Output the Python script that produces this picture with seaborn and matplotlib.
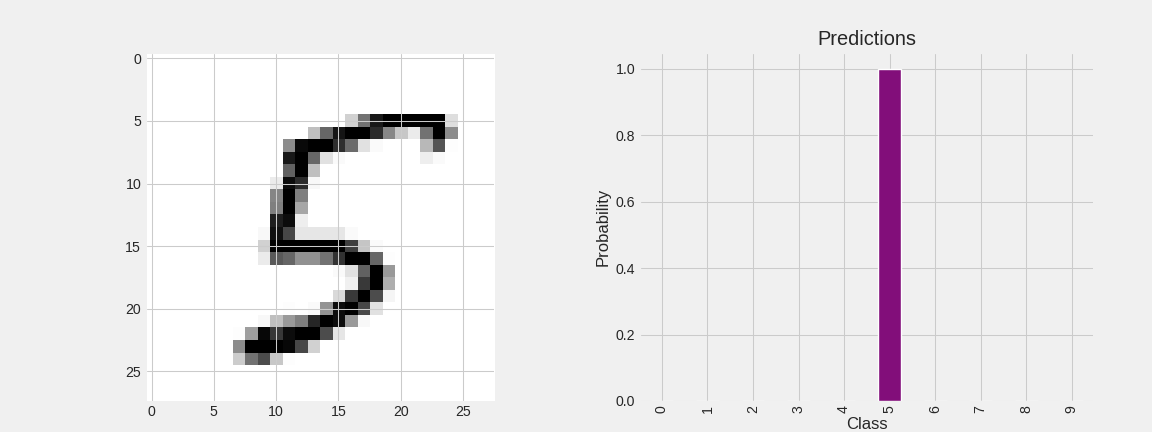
import numpy as np
import pandas as pd
import matplotlib
matplotlib.use("Agg")
import matplotlib.pyplot as plt
import seaborn as sns

# digit darkness: row -> (first column, values from that column on)
digit_rows = {
    5: (16, [.18, .55, .90, 1, 1, 1, 1, 1, .13]),
    6: (13, [.25, .60, .92, 1, 1, .83, .47, .22, .08, .55, 1, .45]),
    7: (11, [.45, .96, 1, 1, .82, .58, .12, .02, 0, 0, 0, .28, .67, .01]),
    8: (11, [.90, 1, .60, .12, .02, 0, 0, 0, 0, 0, 0, .07, .02]),
    9: (11, [.62, 1, .25]),
    10: (10, [.08, .95, .83, .03]),
    11: (10, [.48, 1, .50]),
    12: (10, [.50, 1, .35]),
    13: (10, [.88, .95, .07]),
    14: (9, [.03, .93, .72, .10, .10, .10, .10, .02]),
    15: (9, [.18, 1, 1, 1, 1, 1, 1, .75, .23, .02]),
    16: (9, [.08, .65, .60, .43, .43, .55, .80, 1, 1, .60, .01]),
    17: (15, [.02, .12, .62, 1, .40]),
    18: (16, [.06, .77, 1, .32]),
    19: (15, [.15, .77, 1, .70, .04]),
    20: (11, [.01, 0, .02, .42, .95, 1, .72, .12]),
    21: (9, [.03, .25, .40, .50, .85, 1, .95, .40, .03]),
    22: (7, [.01, .38, .97, .78, .95, 1, 1, .70, .10]),
    23: (7, [.45, 1, 1, 1, .97, .72, .18]),
    24: (7, [.20, .55, .70, .22, .01]),
}
image_size = 28
classes = [0, 1, 2, 3, 4, 5, 6, 7, 8, 9]
probabilities = [0, 0, 0, 0, 0, 1.0, 0, 0, 0, 0]
image_ticks = [0, 5, 10, 15, 20, 25]
prob_ticks = [0.0, 0.2, 0.4, 0.6, 0.8, 1.0]

BG = "#f0f0f0"
GRID = "#cbcbcb"
INK = "#262626"

sns.set_theme(style="whitegrid", rc={
    "figure.facecolor": BG, "axes.facecolor": BG, "savefig.facecolor": BG,
    "grid.color": GRID, "grid.linewidth": 0.75, "axes.edgecolor": BG,
    "text.color": INK, "axes.labelcolor": INK,
    "xtick.color": INK, "ytick.color": INK,
})
plt.rcParams["font.family"] = ["Liberation Sans", "DejaVu Sans"]

digit = np.zeros((image_size, image_size))
for row, (start, vals) in digit_rows.items():
    digit[row, start:start + len(vals)] = vals

fig = plt.figure(figsize=(11.52, 4.32), dpi=100)
W, H = 1152, 432

ax1 = fig.add_axes([146.7 / W, (H - 401) / H, 347.3 / W, 347.3 / H])
ax1.imshow(digit, cmap="gray_r", vmin=0, vmax=1, interpolation="nearest", aspect="auto", zorder=1)
ax1.set_xlim(-0.39, 27.5)
ax1.set_ylim(27.36, -0.37)
ax1.set_xticks(image_ticks)
ax1.set_yticks(image_ticks)
ax1.grid(True, zorder=5)
ax1.set_axisbelow(False)
ax1.tick_params(labelsize=10.2, length=0, pad=4)
ax1.tick_params(axis="x", pad=3)
for s in ax1.spines.values():
    s.set_visible(False)

ax2 = fig.add_axes([640.6 / W, (H - 401) / H, 452.4 / W, 347.5 / H])
df = pd.DataFrame({"Class": classes, "Probability": probabilities})
sns.barplot(data=df, x="Class", y="Probability", color="#820e7a", saturation=1,
            width=0.5, ax=ax2, zorder=3)
ax2.set_xlim(-0.468, 9.466)
ax2.set_ylim(0, 1.046)
ax2.set_yticks(prob_ticks)
ax2.grid(True, axis="both", zorder=0)
ax2.set_axisbelow(True)
ax2.tick_params(labelsize=10.2, length=0, pad=4)
ax2.tick_params(axis="x", labelrotation=90, pad=3)
ax2.set_title("Predictions", fontsize=14.4, pad=5.8, color=INK)
ax2.set_xlabel("Class", fontsize=12, labelpad=2.5)
ax2.set_ylabel("Probability", fontsize=12, labelpad=3.5)
for s in ax2.spines.values():
    s.set_visible(False)

fig.savefig("out.png", dpi=100, facecolor=BG)
